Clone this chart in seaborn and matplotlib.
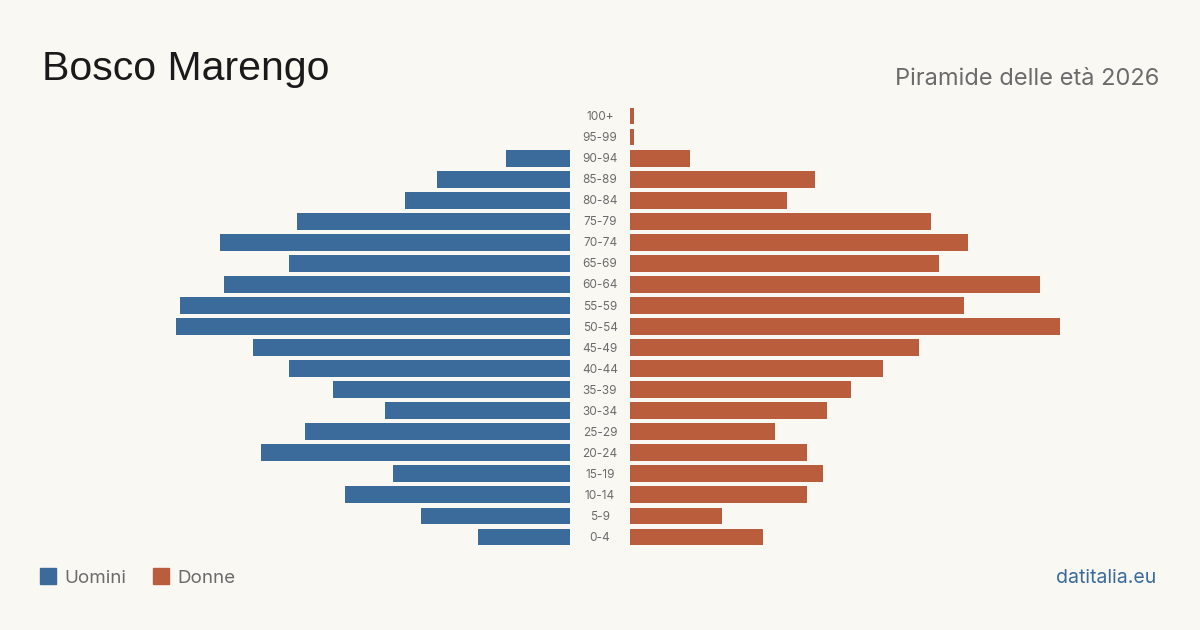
import pandas as pd
import matplotlib.pyplot as plt
import seaborn as sns
from matplotlib.patches import Rectangle

# Dati: fasce d'età (dall'alto verso il basso) e residenti per sesso
eta = ['100+', '95-99', '90-94', '85-89', '80-84', '75-79', '70-74', '65-69',
       '60-64', '55-59', '50-54', '45-49', '40-44', '35-39', '30-34', '25-29',
       '20-24', '15-19', '10-14', '5-9', '0-4']
uomini = [0, 0, 16, 33, 41, 68, 87, 70, 86, 97, 98, 79, 70, 59, 46, 66, 77, 44, 56, 37, 23]
donne = [1, 1, 15, 46, 39, 75, 84, 77, 102, 83, 107, 72, 63, 55, 49, 36, 44, 48, 44, 23, 33]

titolo = 'Bosco Marengo'
sottotitolo = 'Piramide delle età 2026'
fonte = 'datitalia.eu'

BG = '#faf8f3'
BLU = '#3b6b9b'
ARANCIO = '#b95d3d'
GRIGIO = '#6b6b6b'

df = pd.DataFrame({'eta': eta, 'Uomini': uomini, 'Donne': donne})

sns.set_style('white')
plt.rcParams['font.family'] = ['Inter', 'DejaVu Sans']

fig = plt.figure(figsize=(12, 6.3), dpi=100, facecolor=BG)
W, H = 1200, 630
xmax = 107
larg = 430

ax_u = fig.add_axes([(570 - larg) / W, (H - 547.5) / H, larg / W, 442 / H])
ax_d = fig.add_axes([630 / W, (H - 547.5) / H, larg / W, 442 / H])

sns.barplot(data=df, x='Uomini', y='eta', orient='h', color=BLU, width=0.8,
            saturation=1, linewidth=0, ax=ax_u)
sns.barplot(data=df, x='Donne', y='eta', orient='h', color=ARANCIO, width=0.8,
            saturation=1, linewidth=0, ax=ax_d)

ax_u.set_xlim(xmax, 0)
ax_d.set_xlim(0, xmax)
for ax in (ax_u, ax_d):
    ax.set_facecolor('none')
    ax.set_ylim(len(eta) - 0.5, -0.5)
    ax.set_xlabel('')
    ax.set_ylabel('')
    ax.set_xticks([])
    ax.set_yticks([])
    sns.despine(ax=ax, left=True, bottom=True)

# etichette delle fasce al centro
for i, e in enumerate(eta):
    ax_d.text(-30 / 4.02, i + 0.05, e, ha='center', va='center', fontsize=8.5,
              color=GRIGIO, clip_on=False)

fig.text(42 / W, 1 - 80 / H, titolo, fontsize=29.5, color='#1a1a1a',
         family=['Liberation Sans', 'DejaVu Sans'], va='baseline')
fig.text(1159 / W, 1 - 85 / H, sottotitolo, fontsize=17, color=GRIGIO,
         ha='right', va='baseline')

# legenda
fig.add_artist(Rectangle((40 / W, 1 - 584 / H), 16 / W, 16 / H,
                         transform=fig.transFigure, color=BLU))
fig.text(64 / W, 1 - 583 / H, 'Uomini', fontsize=13.5, color=GRIGIO, va='baseline')
fig.add_artist(Rectangle((153 / W, 1 - 584 / H), 16 / W, 16 / H,
                         transform=fig.transFigure, color=ARANCIO))
fig.text(177 / W, 1 - 583 / H, 'Donne', fontsize=13.5, color=GRIGIO, va='baseline')

fig.text(1156 / W, 1 - 583 / H, fonte, fontsize=14, color=BLU, ha='right', va='baseline')

fig.savefig('out.png', dpi=100, facecolor=BG)
